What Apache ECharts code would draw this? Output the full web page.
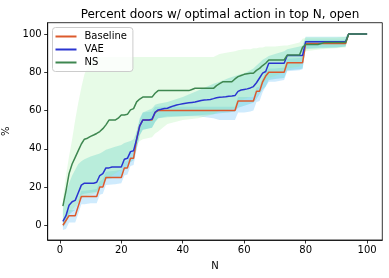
<!DOCTYPE html>
<html><head><meta charset="utf-8">
<script src="https://cdn.jsdelivr.net/npm/echarts@6/dist/echarts.min.js"></script>
<style>html,body{margin:0;padding:0;background:#fff}#c{width:389px;height:278px}</style>
</head><body><div id="c"></div>
<script>
const N = [1,2,3,4,5,6,7,8,9,10,11,12,13,14,15,16,17,18,19,20,21,22,23,24,25,26,27,28,29,30,31,32,33,34,35,36,37,38,39,40,41,42,43,44,45,46,47,48,49,50,51,52,53,54,55,56,57,58,59,60,61,62,63,64,65,66,67,68,69,70,71,72,73,74,75,76,77,78,79,80,81,82,83,84,85,86,87,88,89,90,91,92,93,94,95,96,97,98,99,100];
const baseline = [0,2.5,5,5,5,10,15,15,15,15, 15,15,20,20,25,25,25,25,25,25, 30,30,35,35,45,52,55,55,55,55, 59,60,60,60,60,60,60,60,60,60, 60,60,60,60,60,60,60,60,60,60, 60,60,60,60,60,60,60,65,65,65, 65,65,65,70,70,75,78,80,80,80, 80,80,80,85,85,85,85,85,85,95, 95,95,95,95,95,95,95,95,95,95, 95,95,95,100,100,100,100,100,100,100];
const vae = [2,5,10.5,12.3,13,17,21,22,22,22, 22,22.5,26,27,30,30,30.5,30.5,30.5,30.5, 34.5,35,38.5,39,45,52,55,55,55,55.5, 59,60.3,60.6,61,61.2,61.8,62.4,62.9,63.2,63.5, 63.8,64,64.2,64.4,64.8,65.2,65.5,65.6,65.8,66.2, 66.7,66.9,67,67.2,67.5,67.6,67.8,70,70.7,71, 71.3,71.8,72.5,74.5,77,79.5,80.4,84.7,84.7,84.7, 84.7,84.7,84.7,88.8,88.8,88.8,88.8,88.8,88.8,96, 96,96,96,96,96,96,96,96,96,96, 96,96,96,100,100,100,100,100,100,100];
const ns = [10,18,27,32,35.5,39,42.5,45,45.5,46.5, 47.2,48,49,50.5,52.5,55,55,55,56,57.7, 57.7,58,60.3,61,64.5,66,67,67,67,67, 69,70.4,70.4,70.4,70.4,70.4,70.4,70.4,70.4,70.4, 70.4,70.4,71,71.6,71.6,71.6,71.6,71.6,71.6,71.6, 73,74,75,75,75,75,76.5,77.7,78.3,78.9, 79.2,79.5,79.5,81,82,83.5,84.7,86.4,86.4,86.4, 86.4,86.4,86.4,89,89,89,89,89,93,94.5, 94.5,94.5,94.5,94.5,95,95.5,95.5,95.5,95.5,95.5, 95.5,95.5,95.5,100,100,100,100,100,100,100];

const bandN  = [1,2,3,4,5,6,7,8,10,12,13,14,15,18,20,21,22,23,24,25,26,27,30,31,32,35,40,45,50,52,55,57,58,60,62,63,64,65,66,67,68,70,73,74,78,79,80,85,90,93,94,100];
const baseLo = [-2.5,-2,1.5,1.5,1.5,6,11,11,11.5,11.5,16,16.5,21,21.5,22,26,26.5,31,31.5,40,47,50,51,54,56,57,57,57,56,55,55,55,59,59,59.5,60,64.5,65,69.5,72.5,75,75,76,80.5,81,81.5,92.5,93,93,93.5,99.5,99.5];
const baseHi = [2,6,8,8,8,13,18,18,18.5,19,23,24,28,28.5,29,33,34,38,39,49,56,59,59.5,62,62,62,62,62,62,62,62,62,67,67,67,67.5,72,72.5,77,80,82,82,82.5,87,87.5,88,97,97,97,97,100.5,100.5];
const vaeLo  = [-1,1,5.5,7,8,12,16,16.5,17,17.5,20,21,24,25,25.5,29,30,33,34,40,47,50,51,54,56,56.5,57,57.5,58,58.5,59,59.5,61.5,62.5,63.5,64,66,68.5,71,72.5,76,76.5,77,81,81.5,82,92,92.5,93,93.5,99.5,99.5];
const vaeHi  = [8,17,22,26,29,32,33.5,34.5,36,37,37.5,38.5,39.5,41,42,43,43.5,44,45,49,55,59,61,63,63.5,64.5,67,70.5,74,75,77,78,78.5,79.5,81,82,83.5,85,86.5,87.5,88.5,89.5,91,92,93.5,94,98.5,98.5,98.5,98.5,100.5,100.5];
const nsLo   = [0,3,6,8,10,12,14,15,16,17,20,22,24,27,29,32,35,38,40,42,44,45,46,48,49,53,55,56,58,60,60.5,61,65,66,67,68,70,72,74,76,77,78,80,82,83,88,91,92,92.5,93,99.5,99.5];
const nsHi   = [14,26,36,45,55,64,72,79,86,87.5,88,88,88,88,88,88,88,88,88,88,88,88,88,88,88,88,88,88,88,89.5,90.5,91,91.5,92,92,92.5,92.5,93,93,93.5,93.5,93.5,94,94,95.5,97.5,98,98,98,98.5,100.5,100.5];

const xTicks = [0,20,40,60,80,100];
const yTicks = [0,20,40,60,80,100];

const FONT = 'DejaVu Sans';
function pairs(xs, ys){ return xs.map((x,i)=>[x, ys[i]]); }
function band(lo, hi, color){
  return {
    type:'custom', silent:true, z:1, clip:true,
    data: pairs(bandN, lo),
    encode:{x:0, y:1},
    renderItem: function(params, api){
      if (params.dataIndex !== 0) return null;
      const pts = [];
      for (let i = 0; i < bandN.length; i++) pts.push(api.coord([bandN[i], hi[i]]));
      for (let i = bandN.length - 1; i >= 0; i--) pts.push(api.coord([bandN[i], lo[i]]));
      return {type:'polygon', shape:{points:pts}, style:{fill:color, stroke:null}};
    }
  };
}
function line(name, ys, color){
  return {type:'line', name:name, data:pairs(N, ys), symbol:'none', showSymbol:false,
    lineStyle:{width:1.5, color:color}, itemStyle:{color:color}, z:3};
}

const chart = echarts.init(document.getElementById('c'), null, {renderer:'canvas'});
chart.setOption({
  animation:false,
  backgroundColor:'#fff',
  title:{text:'Percent doors w/ optimal action in top N, open', left:215, top:4, textAlign:'center',
    textStyle:{fontSize:12, fontWeight:'normal', color:'#000', fontFamily:FONT}},
  legend:{data:['Baseline','VAE','NS'], orient:'vertical', left:52.5, top:27.5, icon:'rect',
    backgroundColor:'rgba(255,255,255,0.8)', borderColor:'#cccccc', borderWidth:1, borderRadius:3,
    padding:[4,6,4,3], itemWidth:21, itemHeight:2, itemGap:3,
    textStyle:{fontSize:10, fontFamily:FONT, color:'#000', padding:[0,0,0,3]}},
  grid:{left:47.7, right:6.7, top:22.7, bottom:38, show:true, borderColor:'#000', borderWidth:0.8,
    containLabel:false, outerBoundsMode:'none'},
  xAxis:{type:'value', min:-3.95, max:104.95,
    axisLine:{show:true, onZero:false, lineStyle:{color:'#000', width:0.8}},
    axisTick:{show:true, inside:false, length:3.5, customValues:xTicks, lineStyle:{color:'#000', width:0.8}},
    axisLabel:{customValues:xTicks, color:'#000', fontSize:10, fontFamily:FONT, margin:5},
    splitLine:{show:false},
    name:'N', nameLocation:'middle', nameGap:21, nameTextStyle:{fontSize:10, fontFamily:FONT, color:'#000'}},
  yAxis:{type:'value', min:-7.7, max:105.9,
    axisLine:{show:true, onZero:false, lineStyle:{color:'#000', width:0.8}},
    axisTick:{show:true, inside:false, length:3.5, customValues:yTicks, lineStyle:{color:'#000', width:0.8}},
    axisLabel:{customValues:yTicks, color:'#000', fontSize:10, fontFamily:FONT, margin:6},
    splitLine:{show:false},
    name:'%', nameLocation:'middle', nameGap:32, nameRotate:90, nameTextStyle:{fontSize:10, fontFamily:FONT, color:'#000'}},
  series:[
    band(baseLo, baseHi, 'rgba(135,206,250,0.4)'),
    band(vaeLo, vaeHi, 'rgba(64,200,205,0.3)'),
    band(nsLo, nsHi, 'rgba(144,238,144,0.22)'),
    line('Baseline', baseline, '#dc5a2c'),
    line('VAE', vae, '#2a35d0'),
    line('NS', ns, '#3e8750')
  ]
});
</script></body></html>
